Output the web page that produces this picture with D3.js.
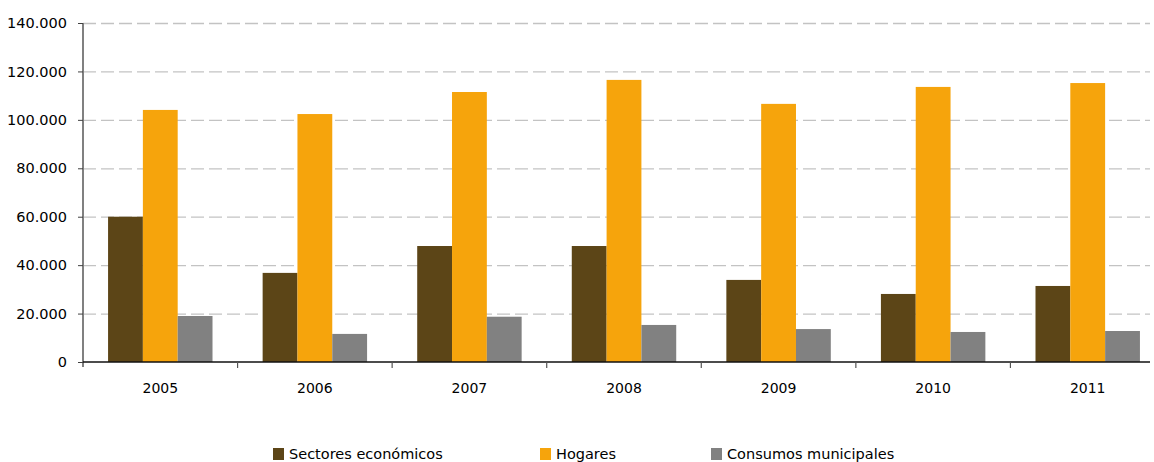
<!DOCTYPE html>
<html><head><meta charset="utf-8">
<script src="https://cdn.jsdelivr.net/npm/d3@7"></script>
<style>
body{margin:0;background:#fff;}
svg{display:block;font-family:"DejaVu Sans",sans-serif;}
</style></head>
<body><svg id="c" width="1154" height="462"></svg>
<script>
const years = ["2005","2006","2007","2008","2009","2010","2011"];
const seriesNames = ["Sectores económicos","Hogares","Consumos municipales"];
const sectores = [60000, 36800, 47900, 47900, 33900, 28100, 31400];
const hogares = [104100, 102400, 111500, 116500, 106600, 113600, 115200];
const municipales = [19000, 11600, 18700, 15300, 13600, 12400, 12800];
const yTickValues = [0, 20000, 40000, 60000, 80000, 100000, 120000, 140000];
const yTickLabels = ["0","20.000","40.000","60.000","80.000","100.000","120.000","140.000"];
const colors = ["#5C4517", "#F6A40C", "#818181"];

(function(){
const seriesValues = [sectores, hogares, municipales];
const svg = d3.select("#c");
const mLeft = 83, mRight = 1165, mTop = 23, mBottom = 362;

const x0 = d3.scaleBand().domain(years).range([mLeft, mRight]).paddingInner(0).paddingOuter(0);
const x1 = d3.scaleBand().domain(seriesNames).range([0, x0.bandwidth()]).paddingInner(0).paddingOuter(0.72);
const y = d3.scaleLinear().domain([0, 140000]).range([mBottom, mTop]);

// gridlines
const grid = svg.append("g").attr("transform", `translate(${mLeft},0)`)
  .call(d3.axisLeft(y).tickValues(yTickValues.slice(1)).tickSize(-(1150 - mLeft)).tickFormat(""));
grid.select(".domain").remove();
grid.selectAll("line").attr("stroke", "#c3c3c3").attr("stroke-width", 1.3).attr("stroke-dasharray", "13,5");

// bars
const groups = svg.append("g").selectAll("g").data(years).join("g")
  .attr("transform", d => `translate(${x0(d)},0)`);
groups.selectAll("rect").data((d, i) => seriesNames.map((s, k) => ({s, v: seriesValues[k][i], k})))
  .join("rect")
  .attr("x", d => x1(d.s)).attr("width", x1.bandwidth())
  .attr("y", d => y(d.v)).attr("height", d => mBottom - y(d.v))
  .attr("fill", d => colors[d.k]);

// y axis
const yAxis = svg.append("g").attr("transform", `translate(${mLeft},0)`)
  .call(d3.axisLeft(y).tickValues(yTickValues).tickSize(5).tickPadding(11)
    .tickFormat((d, i) => yTickLabels[i]));
yAxis.select(".domain").attr("stroke", "#808080").attr("stroke-width", 2).attr("d", `M0,${mTop}V${mBottom + 5}`);
yAxis.selectAll(".tick line").attr("stroke", "#404040");
yAxis.selectAll("text").attr("font-size", 14.5).attr("fill", "#000").attr("font-family", "DejaVu Sans");

// x axis
const xAxis = svg.append("g").attr("transform", `translate(0,${mBottom})`)
  .call(d3.axisBottom(x0).tickSize(0).tickPadding(21));
xAxis.select(".domain").attr("stroke", "#111").attr("stroke-width", 1.5).attr("d", `M${mLeft},0H1150`);
xAxis.selectAll("text").attr("font-size", 14).attr("fill", "#000").attr("font-family", "DejaVu Sans");
// boundary ticks
svg.append("g").selectAll("line").data(years.slice(1)).join("line")
  .attr("x1", d => x0(d)).attr("x2", d => x0(d))
  .attr("y1", mBottom).attr("y2", mBottom + 6)
  .attr("stroke", "#555").attr("stroke-width", 1.2);

// legend
const legendX = [273, 540, 711];
const lg = svg.append("g").selectAll("g").data(seriesNames).join("g")
  .attr("transform", (d, i) => `translate(${legendX[i]},448)`);
lg.append("rect").attr("width", 11).attr("height", 12).attr("fill", (d, i) => colors[i]);
lg.append("text").attr("x", 16).attr("y", 11).attr("font-size", 14.5).attr("fill", "#000")
  .text(d => d);
})();
</script></body></html>
